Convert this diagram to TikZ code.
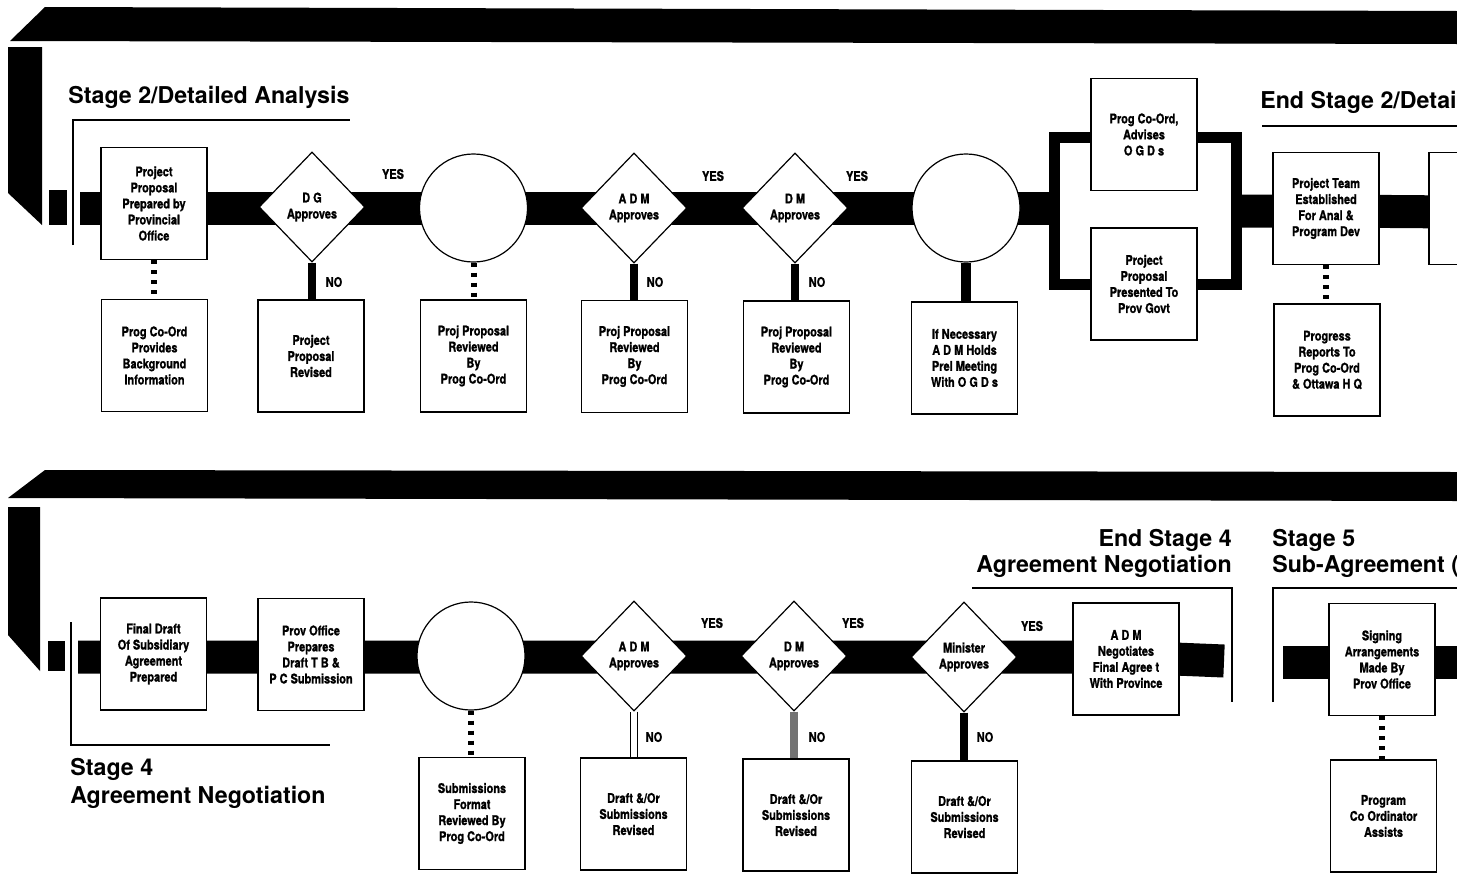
\documentclass[tikz,border=0pt]{standalone}
\usepackage{fontspec}
\newfontfamily\hvc[FakeStretch=0.82,FakeBold=1.2]{TeX Gyre Heros}
\newfontfamily\hvt{TeX Gyre Heros}
\newcommand{\boxf}{\hvc\bfseries\fontsize{9.5}{11.4}\selectfont}
\newcommand{\lblf}{\hvc\bfseries\fontsize{9.5}{11}\selectfont}
\newcommand{\ttlf}{\hvt\bfseries\fontsize{16.5}{18.5}\selectfont}
\usetikzlibrary{shapes.geometric}
\pgfdeclarelayer{bg}
\pgfsetlayers{bg,main}
\tikzset{
 boxn/.style={draw, fill=white, line width=0.03cm, minimum width=2.65cm, minimum height=2.8cm, inner sep=0pt, align=center, font=\boxf},
 dec/.style={diamond, draw, fill=white, line width=0.03cm, minimum width=2.65cm, minimum height=2.75cm, inner sep=0pt, align=center, font=\boxf},
 circ/.style={circle, draw, fill=white, line width=0.03cm, minimum size=2.7cm, inner sep=0pt},
 frm/.style={draw, line width=0.275cm, minimum width=4.525cm, minimum height=3.65cm, inner sep=0pt},
 bar/.style={line width=0.825cm, line cap=butt},
 nocon/.style={line width=0.2cm, line cap=butt},
 hollowcon/.style={line width=0.03cm, double=white, double distance=0.15cm},
 dotcon/.style={line width=0.15cm, dash pattern=on 0.1cm off 0.15cm},
 lbl/.style={font=\lblf, inner sep=0pt},
 ttl/.style={font=\ttlf, inner sep=0pt},
 rulel/.style={line width=0.05cm},
}
\begin{document}
\begin{tikzpicture}[x=0.025cm,y=-0.025cm]
\useasboundingbox (0,0) rectangle (1457,875);
\clip (0,0) rectangle (1457,875);

% ---------- top band and left marks ----------
\fill (10,41) -- (45,7) -- (1457,11) -- (1457,44) -- cycle;
\fill (8,47) -- (42,47) -- (42,225) -- (8,193) -- cycle;
\fill (49,190) rectangle (67,225);
\draw[rulel] (73,245) |- (350,120);
\draw[rulel] (1262,126) -- (1457,126);

\node[ttl, anchor=base west] (t2) at (68,103) {Stage 2/Detailed Analysis};
\node[ttl, anchor=base west] (te2) at (1260,108) {End Stage 2/Detai};

\coordinate (sa) at (80,208);
\coordinate (sa2) at (1242,211);
\coordinate (ea) at (1457,212);

% ---------- top row ----------
\node[boxn] (n1) at (154,203.5) {Project\\Proposal\\Prepared by\\Provincial\\Office};
\node[boxn] (n1b) at (154.5,355.5) {Prog Co-Ord\\Provides\\Background\\Information};
\node[dec] (d1) at (312,207) {D G\\Approves};
\node[boxn] (d1b) at (311,356) {Project\\Proposal\\Revised};
\node[circ] (c1) at (473.5,208) {};
\node[boxn] (c1b) at (473.5,356) {Proj Proposal\\Reviewed\\By\\Prog Co-Ord};
\node[dec] (d2) at (634,208) {A D M\\Approves};
\node[boxn] (d2b) at (634.5,356.5) {Proj Proposal\\Reviewed\\By\\Prog Co-Ord};
\node[dec] (d3) at (795,208) {D M\\Approves};
\node[boxn] (d3b) at (796.5,357) {Proj Proposal\\Reviewed\\By\\Prog Co-Ord};
\node[circ] (c2) at (966,208) {};
\node[boxn] (c2b) at (964.5,358) {If Necessary\\A D M Holds\\Prel Meeting\\With O G D s};
\node[frm] (fr) at (1145.5,211) {};
\node[boxn] (p1) at (1144,134.5) {Prog Co-Ord,\\Advises\\O G D s};
\node[boxn] (p2) at (1144,284) {Project\\Proposal\\Presented To\\Prov Govt};
\node[boxn] (n9) at (1326,208.5) {Project Team\\Established\\For Anal \&\\Program Dev};
\node[boxn] (n9b) at (1327,360) {Progress\\Reports To\\Prog Co-Ord\\\& Ottawa H Q};
\node[boxn] (n10) at (1482,208.5) {};

\node[lbl] (y1) at (393,174) {YES};
\node[lbl] (y2) at (713,176) {YES};
\node[lbl] (y3) at (857,176) {YES};
\node[lbl] (no1) at (334,282) {NO};
\node[lbl] (no2) at (655,282) {NO};
\node[lbl] (no3) at (817,282) {NO};

\draw[dotcon] (n1.south) -- (n1.south |- n1b.north);
\draw[nocon] (d1.south) -- (d1.south |- d1b.north);
\draw[dotcon] (c1.south) -- (c1.south |- c1b.north);
\draw[nocon] (d2.south) -- (d2.south |- d2b.north);
\draw[nocon] (d3.south) -- (d3.south |- d3b.north);
\draw[nocon, line width=0.25cm] (c2.south) -- (c2.south |- c2b.north);
\draw[dotcon] (n9.south) -- (n9.south |- n9b.north);

% ---------- bottom band and left marks ----------
\fill (8,498) -- (45,470) -- (1457,472) -- (1457,501) -- cycle;
\fill (8,507) -- (40,507) -- (40,671) -- (8,635) -- cycle;
\fill (48,641) rectangle (65,671);
\draw[rulel] (71,622) |- (330,745);
\draw[rulel] (972,588) -| (1232,702);
\draw[rulel] (1273,702) |- (1457,588);

\node[ttl, anchor=base west] (t4a) at (70,775) {Stage 4};
\node[ttl, anchor=base west] (t4b) at (70,803) {Agreement Negotiation};
\node[ttl, anchor=base east] (te4a) at (1232,546) {End Stage 4};
\node[ttl, anchor=base east] (te4b) at (1232,572) {Agreement Negotiation};
\node[ttl, anchor=base west] (t5a) at (1272,546) {Stage 5};
\node[ttl, anchor=base west] (t5b) at (1272,572) {Sub-Agreement (};

\coordinate (sb) at (78,657);
\coordinate (eb) at (1224,661);
\coordinate (sc) at (1283,662);
\coordinate (ec) at (1457,662);

% ---------- bottom row ----------
\node[boxn] (b1) at (153.5,654) {Final Draft\\Of Subsidiary\\Agreement\\Prepared};
\node[boxn] (b2) at (311,654.5) {Prov Office\\Prepares\\Draft T B \&\\P C Submission};
\node[circ] (c3) at (471,656) {};
\node[boxn] (c3b) at (472,813.5) {Submissions\\Format\\Reviewed By\\Prog Co-Ord};
\node[dec] (e1) at (634,656) {A D M\\Approves};
\node[boxn] (e1b) at (633.5,814) {Draft \&/Or\\Submissions\\Revised};
\node[dec] (e2) at (794,656) {D M\\Approves};
\node[boxn] (e2b) at (796,815) {Draft \&/Or\\Submissions\\Revised};
\node[dec] (e3) at (964,657) {Minister\\Approves};
\node[boxn] (e3b) at (964.5,817) {Draft \&/Or\\Submissions\\Revised};
\node[boxn] (b9) at (1126,659) {A D M\\Negotiates\\Final Agree t\\With Province};
\node[boxn] (s1) at (1382,659.5) {Signing\\Arrangements\\Made By\\Prov Office};
\node[boxn] (s1b) at (1383.5,816) {Program\\Co Ordinator\\Assists};

\node[lbl] (y4) at (712,623) {YES};
\node[lbl] (y5) at (853,623) {YES};
\node[lbl] (y6) at (1032,626) {YES};
\node[lbl] (no4) at (654,737) {NO};
\node[lbl] (no5) at (817,737) {NO};
\node[lbl] (no6) at (985,737) {NO};

\draw[dotcon] (c3.south) -- (c3.south |- c3b.north);
\draw[hollowcon] (e1.south) -- (e1.south |- e1b.north);
\draw[nocon, draw=black!55] (e2.south) -- (e2.south |- e2b.north);
\draw[nocon] (e3.south) -- (e3.south |- e3b.north);
\draw[dotcon] (s1.south) -- (s1.south |- s1b.north);

% ---------- main flow bars (behind nodes) ----------
\begin{pgfonlayer}{bg}
\draw[bar] (sa) -- (sa -| n1) -- (sa -| d1) -- (sa -| c1) -- (sa -| d2) -- (sa -| d3) -- (sa -| c2) -- (sa -| fr.west);
\draw[bar] (sa2 -| fr.east) -- (sa2 -| n9) -- (ea);
\draw[bar] (sb) -- (sb -| b1) -- (sb -| b2) -- (sb -| c3) -- (sb -| e1) -- (sb -| e2) -- (sb -| e3) -- (sb -| b9) -- (eb);
\draw[bar] (sc) -- (sc -| s1) -- (ec);
\end{pgfonlayer}
\end{tikzpicture}
\end{document}
